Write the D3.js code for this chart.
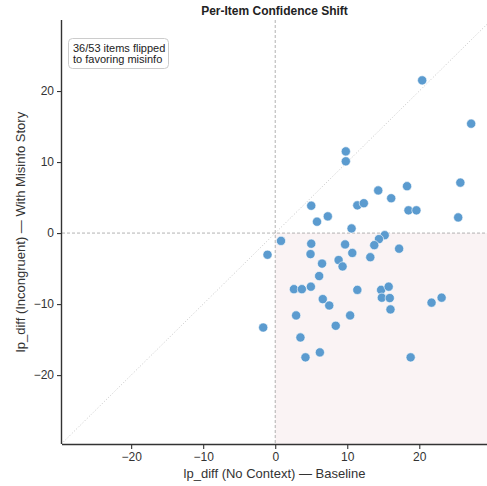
<!DOCTYPE html>
<html><head><meta charset="utf-8">
<script src="https://cdn.jsdelivr.net/npm/d3@7"></script>
<style>body{margin:0;background:#fff}svg{display:block;font-family:"Liberation Sans",Arial,sans-serif}</style>
</head><body>
<svg id="c" width="487" height="486"></svg>
<script>
const baseline = [20.4,27.2,9.8,9.8,25.7,18.3,14.3,16.1,5.0,11.4,12.3,18.5,19.6,25.4,7.3,5.8,10.6,15.2,14.4,0.8,
  5.0,9.7,13.75,17.2,-1.07,4.9,10.7,13.2,8.8,6.5,9.35,6.1,2.6,3.7,4.95,11.4,14.7,15.75,14.8,15.9,6.6,7.5,16.0,21.7,23.1,2.9,10.4,-1.67,8.4,3.5,6.2,4.2,18.8];
const incongruent = [21.5,15.4,11.5,10.1,7.1,6.6,6.0,4.9,3.85,3.9,4.2,3.2,3.2,2.2,2.35,1.6,0.65,-0.3,-0.85,-1.1,
  -1.5,-1.6,-1.7,-2.2,-3.05,-2.96,-2.8,-3.4,-3.8,-4.3,-4.7,-6.05,-7.9,-7.9,-7.55,-8.0,-8.0,-7.55,-9.1,-9.15,-9.3,-10.2,-10.75,-9.8,-9.1,-11.6,-11.6,-13.3,-13.05,-14.7,-16.8,-17.5,-17.5];
const xTicks = [-20,-10,0,10,20];
const yTicks = [-20,-10,0,10,20];
const title = "Per-Item Confidence Shift";
const xLabel = "lp_diff (No Context) — Baseline";
const yLabel = "lp_diff (Incongruent) — With Misinfo Story";
const noteLines = ["36/53 items flipped","to favoring misinfo"];

const svg = d3.select("#c");
const L=62,R=487,T=20,B=444;
const x = d3.scaleLinear().domain([-29.6,29.4]).range([L,R]);
const y = d3.scaleLinear().domain([-29.7,30]).range([B,T]);
const fmt = d => d<0 ? "\u2212"+Math.abs(d) : String(d);

svg.append("defs").append("clipPath").attr("id","clip").append("rect")
  .attr("x",L).attr("y",T).attr("width",R-L).attr("height",B-T);
const g = svg.append("g").attr("clip-path","url(#clip)");

// shaded flipped quadrant
g.append("rect").attr("x",x(0)).attr("y",y(0)).attr("width",R-x(0)).attr("height",B-y(0)).attr("fill","#faf3f4");
// diagonal
g.append("line").attr("x1",x(-30)).attr("y1",y(-30)).attr("x2",x(30)).attr("y2",y(30))
  .attr("stroke","#b8b8b8").attr("stroke-width",0.8).attr("stroke-dasharray","1,2");
// zero lines
g.append("line").attr("x1",x(0)).attr("x2",x(0)).attr("y1",T).attr("y2",B)
  .attr("stroke","#a0a0a0").attr("stroke-width",0.8).attr("stroke-dasharray","3,2");
g.append("line").attr("x1",L).attr("x2",R).attr("y1",y(0)).attr("y2",y(0))
  .attr("stroke","#a0a0a0").attr("stroke-width",0.8).attr("stroke-dasharray","3,2");

// points
g.selectAll("circle.pt").data(baseline.map((b,i)=>[b,incongruent[i]])).enter().append("circle")
  .attr("class","pt").attr("cx",d=>x(d[0])).attr("cy",d=>y(d[1])).attr("r",4.6)
  .attr("fill","#5b9bcf").attr("stroke","#ffffff").attr("stroke-width",0.6);

// axes
const xa = svg.append("g").attr("transform",`translate(0,${B})`)
  .call(d3.axisBottom(x).tickValues(xTicks).tickFormat(fmt).tickSize(5).tickPadding(3));
const ya = svg.append("g").attr("transform",`translate(${L},0)`)
  .call(d3.axisLeft(y).tickValues(yTicks).tickFormat(fmt).tickSize(5).tickPadding(3));
[xa,ya].forEach(a=>{
  a.select(".domain").attr("stroke","#333").attr("stroke-width",1.4);
  a.selectAll(".tick line").attr("stroke","#333").attr("stroke-width",1.1);
  a.selectAll(".tick text").attr("fill","#333").attr("font-size",12).attr("font-family","Liberation Sans, Arial, sans-serif");
});
xa.select(".domain").attr("d",`M${L},0.5H${R}`);
ya.select(".domain").attr("d",`M-0.5,${T}V${B}`);

// labels
svg.append("text").attr("x",(L+R)/2).attr("y",15).attr("text-anchor","middle")
  .attr("font-size",12).attr("font-weight","bold").attr("fill","#222").text(title);
svg.append("text").attr("x",(L+R)/2).attr("y",478).attr("text-anchor","middle")
  .attr("font-size",13).attr("fill","#333").text(xLabel);
svg.append("text").attr("transform",`translate(25,${(T+B)/2}) rotate(-90)`).attr("text-anchor","middle")
  .attr("font-size",13).attr("fill","#333").text(yLabel);

// annotation
svg.append("rect").attr("x",68.5).attr("y",38.5).attr("width",100).attr("height",30).attr("rx",4)
  .attr("fill","#fff").attr("stroke","#cccccc").attr("stroke-width",1);
noteLines.forEach((t,i)=>svg.append("text").attr("x",73).attr("y",51.5+i*11)
  .attr("font-size",11).attr("fill","#222").text(t));
</script>
</body></html>
